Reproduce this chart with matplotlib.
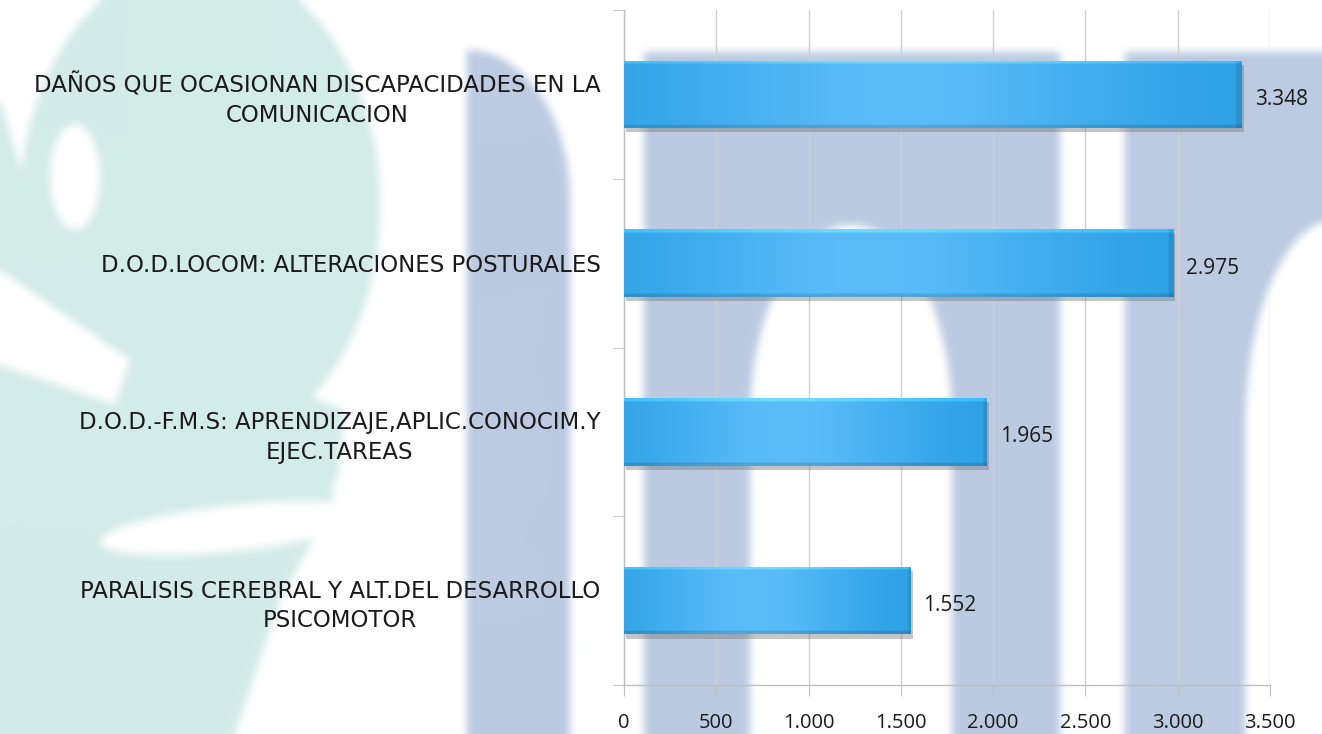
import numpy as np
import matplotlib
matplotlib.use("Agg")
import matplotlib.pyplot as plt
from matplotlib.patches import Polygon, Ellipse, Rectangle
from matplotlib.ticker import FuncFormatter, FixedLocator
import matplotlib.patheffects as pe

# ---------------- data ----------------
categories = [
    "DAÑOS QUE OCASIONAN DISCAPACIDADES EN LA\nCOMUNICACION",
    "D.O.D.LOCOM: ALTERACIONES POSTURALES",
    "D.O.D.-F.M.S: APRENDIZAJE,APLIC.CONOCIM.Y\nEJEC.TAREAS",
    "PARALISIS CEREBRAL Y ALT.DEL DESARROLLO\nPSICOMOTOR",
]
values = [3348, 2975, 1965, 1552]
x_ticks = [0, 500, 1000, 1500, 2000, 2500, 3000, 3500]

LABEL_FONT = "DejaVu Sans"
NUM_FONT = "Open Sans"
W, H = 1322, 734


# ---------------- decorative watermark background (rendered, then blurred) ----------------
def render_background():
    bf = plt.figure(figsize=(W / 100, H / 100), dpi=100)
    bf.patch.set_facecolor("white")
    b = bf.add_axes([0, 0, 1, 1])
    b.set_xlim(0, W)
    b.set_ylim(H, 0)
    b.axis("off")
    teal = "#d3ece9"
    blue = "#bccbe2"
    wh = "white"
    # teal figure on the left
    b.add_patch(Ellipse((200, 205), 360, 490, color=teal, lw=0))
    b.add_patch(Polygon([(0, 100), (60, 300), (345, 410), (335, 500), (280, 600), (235, 734), (0, 734)],
                        closed=True, color=teal, lw=0))
    b.add_patch(Ellipse((75, 177), 50, 105, color=wh, lw=0))
    b.add_patch(Polygon([(0, 270), (130, 360), (115, 405), (0, 365)], closed=True, color=wh, lw=0))
    b.add_patch(Ellipse((235, 528), 270, 46, angle=-6, color=wh, lw=0))
    b.add_patch(Rectangle((333, 480), 120, 260, color=wh, lw=0))
    # blue band with rounded top-right
    th = np.linspace(0, np.pi / 2, 40)
    curve = [(467 + 103 * np.sin(a), 200 - 150 * np.cos(a)) for a in th]
    b.add_patch(Polygon([(467, 734)] + curve + [(570, 734)], closed=True, color=blue, lw=0))
    # blue "m" shape
    b.add_patch(Rectangle((644, 52), 416, 700, color=blue, lw=0))
    b.add_patch(Ellipse((851, 420), 202, 390, color=wh, lw=0))
    b.add_patch(Rectangle((750, 420), 202, 340, color=wh, lw=0))
    b.add_patch(Rectangle((1125, 52), 200, 700, color=blue, lw=0))
    b.add_patch(Ellipse((1335, 430), 180, 420, color=wh, lw=0))
    b.add_patch(Rectangle((1245, 430), 100, 330, color=wh, lw=0))
    bf.canvas.draw()
    arr = np.asarray(bf.canvas.buffer_rgba())[..., :3].astype(float) / 255
    plt.close(bf)

    def box(a, r, axis):
        pad = [(0, 0)] * a.ndim
        pad[axis] = (r + 1, r)
        c = np.cumsum(np.pad(a, pad, mode="edge"), axis=axis)
        n = a.shape[axis]
        hi = np.take(c, np.arange(2 * r + 1, 2 * r + 1 + n), axis=axis)
        lo = np.take(c, np.arange(0, n), axis=axis)
        return (hi - lo) / (2 * r + 1)
    for _ in range(2):
        arr = box(box(arr, 4, 0), 4, 1)
    return np.clip(arr, 0, 1)


bg_img = render_background()

fig = plt.figure(figsize=(W / 100, H / 100), dpi=100)
fig.patch.set_facecolor("white")
bg = fig.add_axes([0, 0, 1, 1], zorder=-5)
bg.imshow(bg_img, aspect="auto", interpolation="bilinear")
bg.axis("off")

# ---------------- main axes ----------------
ax = fig.add_axes([624 / W, 1 - 685 / H, (1270 - 624) / W, (685 - 10) / H])
ax.patch.set_alpha(0)

ypos = np.arange(len(categories))[::-1]
bars = ax.barh(ypos, values, height=0.4, color="#3fb0ee", edgecolor="none", zorder=3)

# gradient fill for each bar
nx, ny = 200, 40
t = np.linspace(0, 1, nx)
dark = np.array([0x2a, 0x9f, 0xe3]) / 255
light = np.array([0x5a, 0xbd, 0xf8]) / 255
w = np.exp(-((t - 0.45) / 0.36) ** 2)
row = dark[None, :] * (1 - w[:, None]) + light[None, :] * w[:, None]
img = np.repeat(row[None, :, :], ny, axis=0)
img[-2:, :, :] = np.clip(img[-2:, :, :] * 1.12 + 0.03, 0, 1)
img[:2, :, :] = img[:2, :, :] * 0.88
img[:, -2:, :] = img[:, -2:, :] * 0.9

for b in bars:
    b.set_path_effects([pe.SimplePatchShadow(offset=(1.5, -3), shadow_rgbFace="#707070", alpha=0.4),
                        pe.Normal()])
    x0, y0 = b.get_x(), b.get_y()
    im = ax.imshow(img, extent=(x0, x0 + b.get_width(), y0, y0 + b.get_height()),
                   origin="lower", aspect="auto", zorder=4, interpolation="bilinear")
    im.set_clip_path(b)

for yy, v in zip(ypos, values):
    ax.text(v + 70, yy - 0.03, f"{v:,.0f}".replace(",", "."), va="center", ha="left",
            fontsize=15, family=NUM_FONT, color="#1a1a1a", zorder=5)

ax.set_xlim(0, 3500)
ax.set_ylim(-0.5, len(categories) - 0.5)
ax.xaxis.set_major_locator(FixedLocator(x_ticks))
ax.xaxis.set_major_formatter(FuncFormatter(lambda x, p: f"{x:,.0f}".replace(",", ".")))
ax.set_yticks(ypos)
ax.set_yticklabels(categories, family=LABEL_FONT, fontsize=16.5, color="#1a1a1a",
                   multialignment="center", linespacing=1.35)
ax.set_yticks(np.arange(-0.5, len(categories), 1), minor=True)
ax.tick_params(axis="y", which="major", length=0, pad=17)
ax.tick_params(axis="y", which="minor", length=8, color="#bfbfbf", direction="out")
ax.tick_params(axis="x", length=8, color="#bfbfbf", direction="out", pad=12,
               labelsize=14.5, labelcolor="#1a1a1a")
for lbl in ax.get_xticklabels():
    lbl.set_family(NUM_FONT)
ax.grid(axis="x", color="#d0d0d0", lw=1, zorder=0)
ax.set_axisbelow(True)
for s in ["top", "right"]:
    ax.spines[s].set_visible(False)
for s in ["left", "bottom"]:
    ax.spines[s].set_color("#bfbfbf")
    ax.spines[s].set_linewidth(1)

fig.savefig("out.png", dpi=100, facecolor="white")
